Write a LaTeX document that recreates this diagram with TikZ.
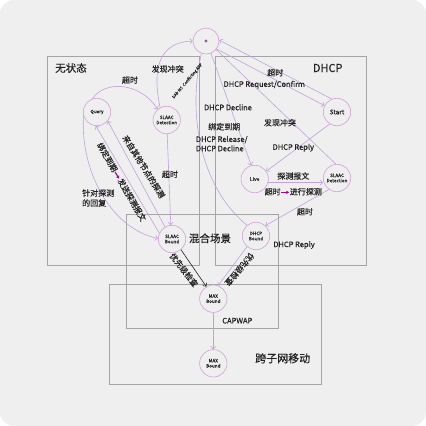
\documentclass[tikz,border=0pt]{standalone}
\usepackage{fontspec}
\setmainfont{Noto Sans CJK SC}[FakeBold=0.4]
\usetikzlibrary{arrows.meta}
\definecolor{bgc}{RGB}{239,239,239}
\definecolor{boxc}{RGB}{165,165,165}
\definecolor{edgec}{RGB}{196,160,222}
\definecolor{circc}{RGB}{214,160,214}
\definecolor{dotc}{RGB}{150,80,180}
\definecolor{txtc}{RGB}{34,34,34}
\definecolor{magc}{RGB}{160,0,150}
\newcommand{\marr}{\tikz[baseline=-0.55ex]\draw[magc,line width=1.1pt,-{Latex[length=3pt,width=3.5pt]}](0pt,0pt)--(8pt,0pt);}
\tikzset{
 statenode/.style={circle,draw=circc,line width=0.6pt,minimum size=27.4pt,inner sep=0pt,align=center,font=\fontsize{4.6}{5.2}\selectfont,text=txtc},
 lbl/.style={font=\fontsize{8}{9}\selectfont,text=txtc,inner sep=0pt},
 ttl/.style={font=\fontsize{10.5}{12}\selectfont,text=txtc,inner sep=0pt},
 conn/.style={draw=edgec,line width=0.6pt,-{Straight Barb[length=2.5pt,width=5pt]}},
 connplain/.style={draw=edgec,line width=0.6pt},
 zone/.style={draw=boxc,line width=0.8pt},
}
\begin{document}
\begin{tikzpicture}[x=1pt,y=-1pt]
\useasboundingbox (0,0) rectangle (426,426);
\fill[white] (0,0) rectangle (426,426);
\fill[bgc,rounded corners=14pt] (0,0) rectangle (426,426);
% zones
\draw[zone] (47.5,56) rectangle (199.5,265);
\draw[zone] (215,56) rectangle (366.7,265);
\draw[zone] (126.7,214) rectangle (278.3,328.7);
\draw[zone] (109,284.7) rectangle (321,384.3);
\node[ttl] (tstateless) at (71,68) {无状态};
\node[ttl,font=\fontsize{11}{12}\selectfont] (tdhcp) at (327.7,68) {DHCP};
\node[ttl] (tmix) at (210,238.3) {混合场景};
\node[ttl,font=\fontsize{11}{12}\selectfont] (tmove) at (282.7,358.3) {跨子网移动};
% nodes
\node[statenode,minimum size=26pt] (top) at (206,41) {};
\fill[dotc] (top.center) circle (1.6pt);
\node[statenode] (q) at (97,112) {Query};
\node[statenode] (sdl) at (166.7,120) {SLAAC\\Detection};
\node[statenode,font=\fontsize{6.5}{7}\selectfont] (st) at (337,112) {Start};
\node[statenode,font=\fontsize{5}{6}\selectfont] (lv) at (254.7,179) {Live};
\node[statenode] (sdr) at (337,178) {SLAAC\\Detection};
\node[statenode] (sb) at (172,239) {SLAAC\\Bound};
\node[statenode] (db) at (256,236) {DHCP\\Bound};
\node[statenode] (m1) at (213.3,298.7) {MAX\\Bound};
\node[statenode] (m2) at (213.3,363.3) {MAX\\Bound};
% edges
\draw[conn] (q.110) .. controls (105,80) and (140,82) .. (sdl.130);
\draw[conn] (sdl.118) .. controls (150,60) and (165,42) .. (top.west);
\draw[conn] (top.-37) -- (st.153);
\draw[conn] (st.112) -- (top.4);
\draw[conn] (top.-68) -- (lv.104);
\draw[connplain] (db.130) .. controls (198,185) and (188,110) .. (top.-110);
\draw[connplain] (sdr.95) -- (top.-40);
\draw[conn] (st.-121) -- (lv.34);
\draw[conn] (lv.-15) -- (lv.-15 -| sdr.west);
\draw[conn] (sdr.-125) -- (db.48);
\draw[conn] (sdl.-88) -- (sb.95);
\draw[conn] (q.-165) .. controls (80,170) and (110,228) .. (sb.178);
\draw[conn] (sb.155) -- (q.-95);
\draw[conn] (sb.120) -- (q.-40);
\draw[draw=txtc,line width=0.6pt,-{Straight Barb[length=2.5pt,width=5pt]}] (sb.-50) -- (m1.120);
\draw[conn] (db.-130) -- (m1.70);
\draw[conn] (m1.south) -- (m2.north);
% labels
\node[lbl] (l1) at (130,80) {超时};
\node[lbl] (l2) at (167.7,69) {发现冲突};
\node[lbl,font=\fontsize{4}{5}\selectfont,rotate=50] (l3) at (187.5,81) {DAD NS\ \ Conflicting ARP};
\node[lbl] (l4) at (275.3,72.7) {超时};
\node[lbl,font=\fontsize{7.5}{9}\selectfont] (l5) at (264.3,84.7) {DHCP\ Request/Confirm};
\node[lbl,font=\fontsize{7.5}{9}\selectfont] (l6) at (228,107.3) {DHCP\ Decline};
\node[lbl] (l7) at (224.3,126.7) {绑定到期};
\node[lbl,font=\fontsize{7.5}{9.3}\selectfont,align=left,anchor=west] (l8) at (195.7,143.7) {DHCP\ Release/\\DHCP\ Decline};
\node[lbl] (l9) at (280,122.7) {发现冲突};
\node[lbl,font=\fontsize{7.5}{9}\selectfont] (l10) at (293.3,147.7) {DHCP\ Reply};
\node[lbl] (l11) at (293.3,176) {探测报文};
\node[lbl] (l12) at (293.3,191.7) {超时\marr 进行探测};
\node[lbl] (l13) at (305,211.7) {超时};
\node[lbl,font=\fontsize{7.5}{9}\selectfont] (l14) at (294,245) {DHCP\ Reply};
\node[lbl] (l15) at (170,174.3) {超时};
\node[lbl,align=left,anchor=west,font=\fontsize{8}{10}\selectfont] (l16) at (82,198) {针对探测\\的回复};
\node[lbl,rotate=-60] (l17) at (121.7,182) {绑定到期\marr 发送探测报文};
\node[lbl,rotate=-58] (l18) at (143.8,166.7) {来自其他节点的探测};
\node[lbl,rotate=-52] (l19) at (184,270) {优先级检查};
\node[lbl,rotate=-130] (l20) at (239.5,269.5) {优先级检查};
\node[lbl,font=\fontsize{7.5}{9}\selectfont] (l21) at (237.3,320.7) {CAPWAP};
\end{tikzpicture}
\end{document}
